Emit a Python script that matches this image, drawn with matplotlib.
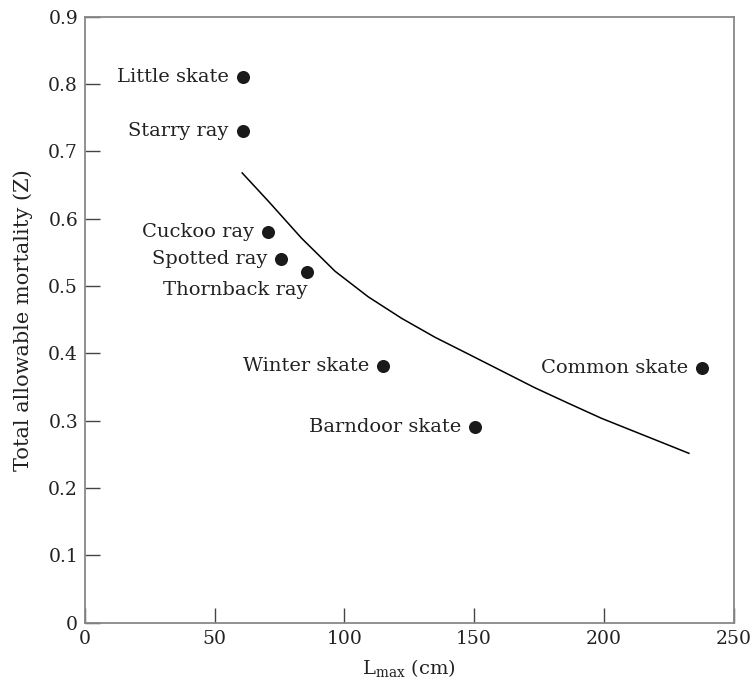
import matplotlib
matplotlib.use("Agg")
import matplotlib.pyplot as plt

plt.rcParams['font.family'] = ['DejaVu Serif']
plt.rcParams['mathtext.fontset'] = 'dejavuserif'

# species points
species = ["Little skate", "Starry ray", "Cuckoo ray", "Spotted ray", "Thornback ray",
           "Winter skate", "Barndoor skate", "Common skate"]
lmax = [60.8, 60.8, 70.7, 75.6, 85.7, 115.0, 150.3, 238.0]
z = [0.81, 0.73, 0.58, 0.54, 0.521, 0.381, 0.291, 0.378]

# fitted curve, traced by eye
curve_x = [60.6, 70.7, 83.5, 96.4, 109.2, 122.1, 134.9, 147.8, 160.6, 173.4, 186.3,
           199.1, 212.0, 224.8, 232.8]
curve_y = [0.668, 0.626, 0.571, 0.522, 0.484, 0.452, 0.424, 0.399, 0.374, 0.349, 0.326,
           0.3036, 0.2837, 0.264, 0.2516]

xticks = [0, 50, 100, 150, 200, 250]
yticks = [0, 0.1, 0.2, 0.3, 0.4, 0.5, 0.6, 0.7, 0.8, 0.9]
ytick_labels = ["0", "0.1", "0.2", "0.3", "0.4", "0.5", "0.6", "0.7", "0.8", "0.9"]

fig = plt.figure(figsize=(7.52, 6.82), dpi=100)
ax = fig.add_axes([0.113, 0.0869, 0.8624, 0.8886])

ax.plot(curve_x, curve_y, color="black", lw=1.1, solid_joinstyle="round")
ax.plot(lmax, z, "o", color="#1a1a1a", ms=9.4, mec="none")

for name, xv, yv in zip(species, lmax, z):
    if name == "Thornback ray":
        # this one sits below its dot
        ax.annotate(name, (xv, yv), xytext=(0, -13), textcoords="offset points",
                    ha="right", va="center", fontsize=14, color="#222222")
    else:
        ax.annotate(name, (xv, yv), xytext=(-10, 0), textcoords="offset points",
                    ha="right", va="center", fontsize=14, color="#222222")

ax.set_xlim(0, 250)
ax.set_ylim(0, 0.9)
ax.set_xticks(xticks)
ax.set_yticks(yticks)
ax.set_yticklabels(ytick_labels)
ax.tick_params(direction="in", length=11, width=1.0, color="#444444",
               labelsize=13.5, labelcolor="#222222", pad=5)

for s in ax.spines.values():
    s.set_color("#888888")
    s.set_linewidth(1.3)

ax.set_xlabel(r"L$_{\mathrm{max}}$ (cm)", fontsize=14, color="#222222", labelpad=7)
ax.set_ylabel("Total allowable mortality (Z)", fontsize=15, color="#222222", labelpad=11)

fig.savefig("out.png", dpi=100)
